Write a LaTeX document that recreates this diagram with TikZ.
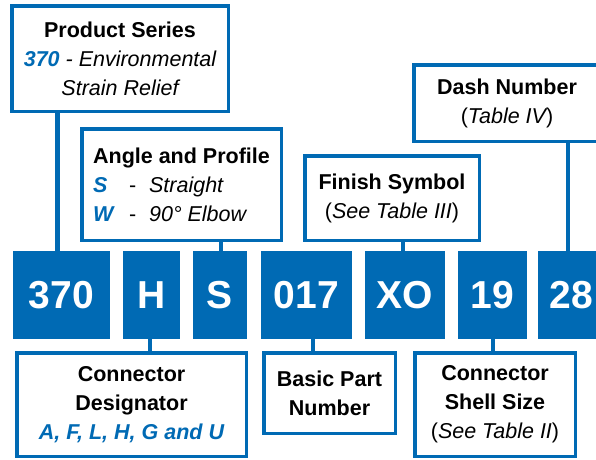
\documentclass[tikz,border=0pt]{standalone}
\usepackage{fontspec}
\setmainfont{Liberation Sans}
\definecolor{brandblue}{RGB}{0,106,180}
\newcommand{\bl}[1]{{\color{brandblue}\bfseries\itshape #1}}
\begin{document}
\begin{tikzpicture}[x=1pt,y=-1pt,
  lbl/.style={draw=brandblue, line width=3.5pt, fill=white, inner sep=0pt, align=center,
    font=\fontsize{21.5}{29}\selectfont},
  codebox/.style={fill=brandblue, draw=none, inner sep=0pt, text=white,
    minimum height=88pt, font=\fontsize{39}{39}\selectfont\bfseries},
  conn/.style={draw=brandblue, line width=4.5pt}]
\useasboundingbox (0,0) rectangle (596,459);

% code boxes
\node[codebox, minimum width=97pt] (b370) at (61.5,295) {370};
\node[codebox, minimum width=57pt] (bH) at (151.5,295) {H};
\node[codebox, minimum width=54pt] (bS) at (220,295) {S};
\node[codebox, minimum width=91pt] (b017) at (306.5,295) {017};
\node[codebox, minimum width=80pt] (bXO) at (405,295) {XO};
\node[codebox, minimum width=69pt] (b19) at (492.5,295) {19};
\node[codebox, minimum width=67pt] (b28) at (571.5,295) {28};

% label boxes
\node[lbl, minimum width=216.5pt, minimum height=105.5pt] (prod) at (120,58.5)
  {{\bfseries Product Series}\\\bl{370}{\itshape\ - Environmental}\\{\itshape Strain Relief}};
\node[lbl, minimum width=199.5pt, minimum height=111.5pt, align=left] (angle) at (181.5,184.5)
  {{\bfseries Angle and Profile}\\
   \makebox[36pt][l]{\bl{S}}\makebox[20pt][l]{-}{\itshape Straight}\\
   \makebox[36pt][l]{\bl{W}}\makebox[20pt][l]{-}{\itshape 90° Elbow}};
\node[lbl, minimum width=174.5pt, minimum height=84.5pt] (finish) at (392,198)
  {{\bfseries Finish Symbol}\\({\itshape See Table III})};
\node[lbl, minimum width=186.5pt, minimum height=76.5pt] (dash) at (507,103)
  {{\bfseries Dash Number}\\({\itshape Table IV})};
\node[lbl, minimum width=229.5pt, minimum height=103.5pt] (desig) at (131.5,404.5)
  {{\bfseries Connector}\\{\bfseries Designator}\\\bl{A, F, L, H, G and U}};
\node[lbl, minimum width=131.5pt, minimum height=80.5pt] (basic) at (329.5,393)
  {{\bfseries Basic Part}\\{\bfseries Number}};
\node[lbl, minimum width=160.5pt, minimum height=103.5pt] (shell) at (495,404.5)
  {{\bfseries Connector}\\{\bfseries Shell Size}\\({\itshape See Table II})};

% connectors
\draw[conn] ([xshift=-4pt]b370.north) -- ([xshift=-4pt]b370.north |- prod.south);
\draw[conn] ([xshift=1pt]bS.north) -- ([xshift=1pt]bS.north |- angle.south);
\draw[conn] ([xshift=-2pt]bXO.north) -- ([xshift=-2pt]bXO.north |- finish.south);
\draw[conn] ([xshift=-3.5pt]b28.north) -- ([xshift=-3.5pt]b28.north |- dash.south);
\draw[conn] ([xshift=-1.5pt]bH.south) -- ([xshift=-1.5pt]bH.south |- desig.north);
\draw[conn] ([xshift=6.5pt]b017.south) -- ([xshift=6.5pt]b017.south |- basic.north);
\draw[conn] ([xshift=0.5pt]b19.south) -- ([xshift=0.5pt]b19.south |- shell.north);
\end{tikzpicture}
\end{document}
